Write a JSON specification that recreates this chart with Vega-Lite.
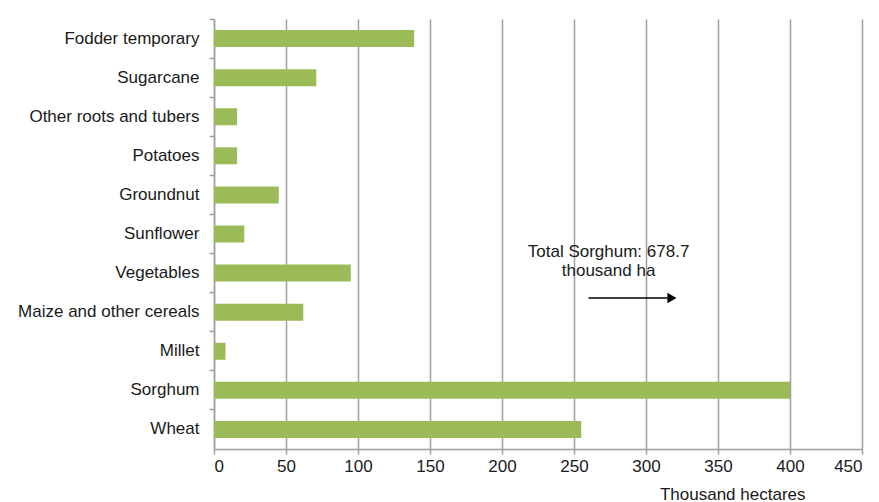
{
  "$schema": "https://vega.github.io/schema/vega-lite/v6.json",
  "width": 648,
  "height": 430,
  "autosize": {"type": "none"},
  "padding": {"left": 214, "top": 19, "right": 17, "bottom": 53},
  "background": "white",
  "config": {
    "font": "Liberation Sans",
    "view": {"stroke": null},
    "axis": {
      "labelFont": "Liberation Sans",
      "labelFontSize": 17,
      "labelColor": "#1a1a1a",
      "labelLimit": 400,
      "titleFont": "Liberation Sans",
      "titleFontSize": 17,
      "titleFontWeight": "normal",
      "titleColor": "#1a1a1a",
      "domainColor": "#a0a0a0",
      "domainWidth": 1.5,
      "tickColor": "#a0a0a0",
      "tickWidth": 1.5,
      "tickSize": 5
    }
  },
  "data": {
    "values": [
      {"crop": "Fodder temporary", "area": 139},
      {"crop": "Sugarcane", "area": 71},
      {"crop": "Other roots and tubers", "area": 16},
      {"crop": "Potatoes", "area": 16},
      {"crop": "Groundnut", "area": 45},
      {"crop": "Sunflower", "area": 21},
      {"crop": "Vegetables", "area": 95},
      {"crop": "Maize and other cereals", "area": 62},
      {"crop": "Millet", "area": 8},
      {"crop": "Sorghum", "area": 678.7},
      {"crop": "Wheat", "area": 255}
    ]
  },
  "encoding": {
    "y": {
      "field": "crop",
      "type": "nominal",
      "sort": null,
      "scale": {"paddingInner": 0, "paddingOuter": 0},
      "axis": {
        "title": null,
        "bandPosition": 0,
        "labelPadding": 10,
        "grid": false
      }
    }
  },
  "layer": [
    {
      "transform": [
        {"calculate": "min(datum.area, 400)", "as": "shown"}
      ],
      "mark": {"type": "bar", "color": "#9bbb59", "size": 17},
      "encoding": {
        "x": {
          "field": "shown",
          "type": "quantitative",
          "scale": {"domain": [0, 450], "nice": false},
          "axis": {
            "title": "Thousand hectares",
            "values": [0, 50, 100, 150, 200, 250, 300, 350, 400, 450],
            "grid": true,
            "gridColor": "#a0a0a0",
            "gridWidth": 1.5,
            "labelPadding": 4,
            "titleAnchor": "end",
            "titleAlign": "right",
            "titleX": 591,
            "titleY": 50,
            "titleBaseline": "alphabetic"
          }
        }
      }
    },
    {
      "data": {"values": [{"note": "Total Sorghum: 678.7 thousand ha"}]},
      "mark": {
        "type": "text",
        "text": ["Total Sorghum: 678.7", "thousand ha"],
        "fontSize": 17,
        "color": "#1a1a1a",
        "align": "center",
        "baseline": "middle",
        "lineHeight": 19,
        "dy": -21
      },
      "encoding": {
        "x": {"datum": 274, "type": "quantitative"},
        "y": {"datum": "Vegetables"}
      }
    },
    {
      "data": {"values": [{"note": "arrow"}]},
      "mark": {"type": "rule", "color": "black", "strokeWidth": 1.5, "yOffset": 25},
      "encoding": {
        "x": {"datum": 260, "type": "quantitative"},
        "x2": {"datum": 315},
        "y": {"datum": "Vegetables"}
      }
    },
    {
      "data": {"values": [{"note": "arrow head"}]},
      "mark": {"type": "point", "shape": "triangle-right", "filled": true, "color": "black", "opacity": 1, "size": 110, "yOffset": 25},
      "encoding": {
        "x": {"datum": 318, "type": "quantitative"},
        "y": {"datum": "Vegetables"}
      }
    }
  ]
}
